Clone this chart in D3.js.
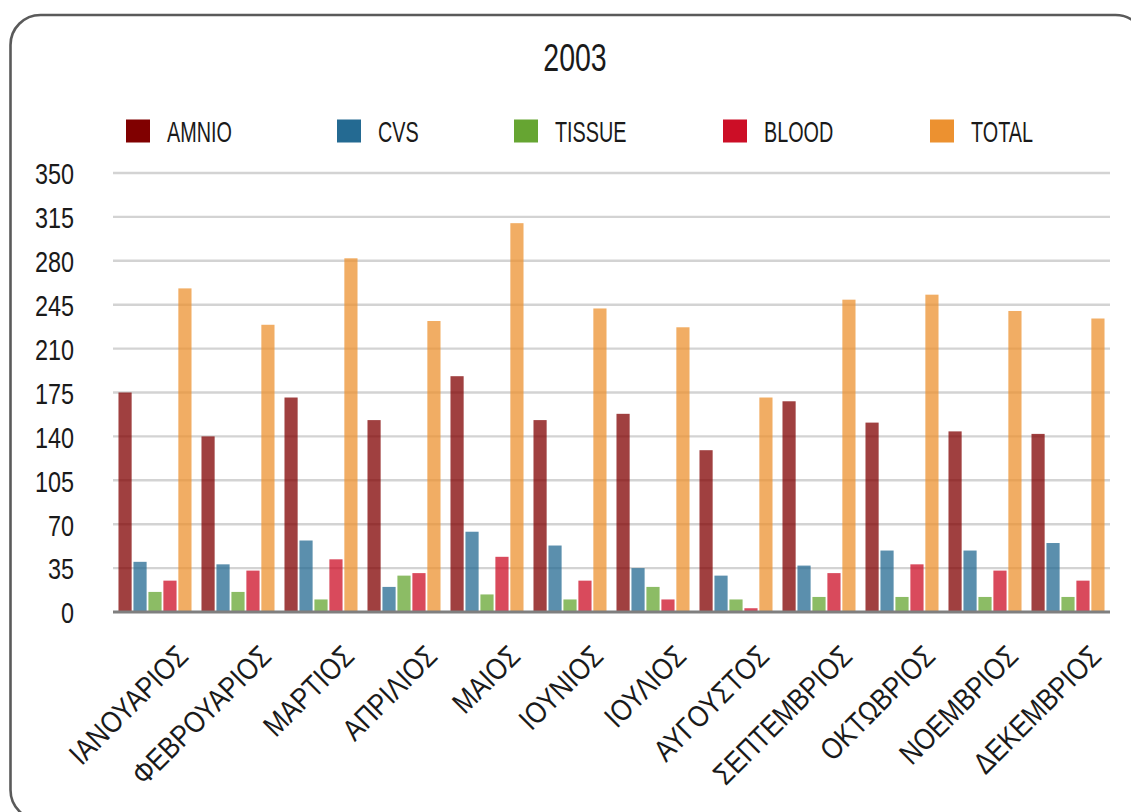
<!DOCTYPE html>
<html>
<head>
<meta charset="utf-8">
<script src="https://cdn.jsdelivr.net/npm/d3@7"></script>
<style>
  html, body { margin: 0; padding: 0; background: #ffffff; }
  svg { display: block; }
  text { font-family: "Liberation Sans Narrow", "Liberation Sans", Arial, sans-serif; fill: #1a1a1a; }
</style>
</head>
<body>
<svg id="chart" width="1131" height="812"></svg>
<script>
// Monthly sample counts for 2003
const months = ["ΙΑΝΟΥΑΡΙΟΣ", "ΦΕΒΡΟΥΑΡΙΟΣ", "ΜΑΡΤΙΟΣ", "ΑΠΡΙΛΙΟΣ", "ΜΑΙΟΣ", "ΙΟΥΝΙΟΣ",
                "ΙΟΥΛΙΟΣ", "ΑΥΓΟΥΣΤΟΣ", "ΣΕΠΤΕΜΒΡΙΟΣ", "ΟΚΤΩΒΡΙΟΣ", "ΝΟΕΜΒΡΙΟΣ", "ΔΕΚΕΜΒΡΙΟΣ"];
const seriesNames = ["AMNIO", "CVS", "TISSUE", "BLOOD", "TOTAL"];
const amnio  = [175, 140, 171, 153, 188, 153, 158, 129, 168, 151, 144, 142];
const cvs    = [40, 38, 57, 20, 64, 53, 35, 29, 37, 49, 49, 55];
const tissue = [16, 16, 10, 29, 14, 10, 20, 10, 12, 12, 12, 12];
const blood  = [25, 33, 42, 31, 44, 25, 10, 3, 31, 38, 33, 25];
const total  = [258, 229, 282, 232, 310, 242, 227, 171, 249, 253, 240, 234];
const yTicks = [0, 35, 70, 105, 140, 175, 210, 245, 280, 315, 350];
const title = "2003";

const seriesValues = { AMNIO: amnio, CVS: cvs, TISSUE: tissue, BLOOD: blood, TOTAL: total };
const colors = { AMNIO: "#800000", CVS: "#246a92", TISSUE: "#66a532", BLOOD: "#cc0e26", TOTAL: "#ec9130" };

// layout
const plot = { left: 113, right: 1110, top: 173, bottom: 612 };
const legendX = [126, 337, 514, 723, 930];

const svg = d3.select("#chart");

// rounded frame
svg.append("rect")
  .attr("x", 10.5).attr("y", 15)
  .attr("width", 1135).attr("height", 805)
  .attr("rx", 30).attr("ry", 30)
  .attr("fill", "#ffffff")
  .attr("stroke", "#5a5a5a")
  .attr("stroke-width", 2.6);

// shrink a text run horizontally to mimic a condensed face
function condense(sel, k) {
  sel.each(function () {
    const len = this.getComputedTextLength();
    d3.select(this).attr("textLength", len * k).attr("lengthAdjust", "spacingAndGlyphs");
  });
}

// title
svg.append("text")
  .attr("x", 575).attr("y", 71)
  .attr("text-anchor", "middle")
  .style("font-size", "38px")
  .text(title)
  .call(condense, 0.75);

// legend
const legend = svg.append("g").selectAll("g")
  .data(seriesNames)
  .join("g")
  .attr("transform", (d, i) => `translate(${legendX[i]},0)`);
legend.append("rect")
  .attr("x", 0).attr("y", 119.5)
  .attr("width", 24).attr("height", 23)
  .attr("fill", d => colors[d]);
legend.append("text")
  .attr("x", 41).attr("y", 142)
  .style("font-size", "30px")
  .text(d => d)
  .call(condense, 0.66);

// scales
const y = d3.scaleLinear().domain([0, 350]).range([plot.bottom, plot.top]);
const x0 = d3.scaleBand().domain(months).range([plot.left, plot.right])
  .paddingInner(0.12).paddingOuter(0.066);
const x1 = d3.scaleBand().domain(seriesNames).range([0, x0.bandwidth()])
  .paddingInner(0.12);

// gridlines
svg.append("g")
  .selectAll("line")
  .data(yTicks.filter(t => t > 0))
  .join("line")
  .attr("x1", plot.left).attr("x2", plot.right)
  .attr("y1", d => y(d)).attr("y2", d => y(d))
  .attr("stroke", "#d3d3d3")
  .attr("stroke-width", 2.4);

// y axis labels
const yAxis = d3.axisLeft(y).tickValues(yTicks).tickSize(0).tickPadding(0);
const yG = svg.append("g")
  .attr("transform", `translate(74,0)`)
  .call(yAxis);
yG.select(".domain").remove();
yG.selectAll("text")
  .style("font-size", "30px")
  .style("font-family", null)
  .attr("fill", "#1a1a1a")
  .attr("dy", "0.36em")
  .call(condense, 0.78);

// bars
const groups = svg.append("g")
  .selectAll("g")
  .data(months)
  .join("g")
  .attr("transform", d => `translate(${x0(d)},0)`);
groups.selectAll("rect")
  .data((m, i) => seriesNames.map(s => ({ key: s, value: seriesValues[s][i] })))
  .join("rect")
  .attr("x", d => x1(d.key))
  .attr("width", x1.bandwidth())
  .attr("y", d => y(d.value))
  .attr("height", d => y(0) - y(d.value))
  .attr("fill", d => colors[d.key])
  .attr("fill-opacity", 0.75);

// baseline
svg.append("line")
  .attr("x1", plot.left).attr("x2", plot.right)
  .attr("y1", y(0)).attr("y2", y(0))
  .attr("stroke", "#7f7f7f")
  .attr("stroke-width", 3);

// x axis labels
const xAxis = d3.axisBottom(x0).tickSize(0).tickPadding(0);
const xG = svg.append("g")
  .attr("transform", `translate(0,${plot.bottom})`)
  .call(xAxis);
xG.select(".domain").remove();
xG.selectAll("text")
  .style("font-size", "30px")
  .style("font-family", null)
  .attr("fill", "#1a1a1a")
  .attr("text-anchor", "end")
  .attr("dy", 0)
  .attr("y", 0)
  .attr("transform", "translate(35,46) rotate(-45)")
  .call(condense, 0.85);
</script>
</body>
</html>
